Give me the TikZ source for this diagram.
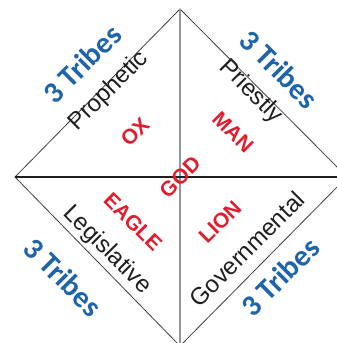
\documentclass[tikz,border=0pt]{standalone}
\usepackage{fontspec}
\setmainfont{Liberation Sans}
\newfontfamily\tribefont{Carlito}
\usetikzlibrary{positioning}
\definecolor{ink}{RGB}{30,30,30}
\definecolor{soft}{RGB}{150,150,150}
\definecolor{tribeblue}{RGB}{30,100,172}
\definecolor{beastred}{RGB}{226,28,44}
\tikzset{
  every picture/.style={x=1pt, y=-1pt, line width=0.8pt},
  edge/.style={draw=ink!85, line width=0.8pt},
  axis/.style={draw=ink, line width=1.1pt},
  spine/.style={draw=soft, line width=1.4pt},
  office/.style={font=\fontsize{24}{24}\selectfont, text=ink, inner sep=0pt},
  tribe/.style={font=\tribefont\bfseries\fontsize{30}{30}\selectfont, text=tribeblue, inner sep=0pt},
  beast/.style={font=\bfseries\fontsize{21}{21}\selectfont, text=beastred, inner sep=0pt},
}

\begin{document}
\begin{tikzpicture}
  \useasboundingbox (0,0) rectangle (337,343);
  % the four points of the square, turned on its corner
  \coordinate (top)    at (180,9);
  \coordinate (left)   at (15,177);
  \coordinate (right)  at (347,177);
  \coordinate (bottom) at (180,346);
  \coordinate (mid)    at (180,177);
  \begin{scope}
    \clip (0,0) rectangle (337,343);
    \draw[edge] (top) -- (right) -- (bottom) -- (left) -- cycle;
    \draw[spine] (top) -- (bottom);
    \draw[axis] (left) -- (right);
  \end{scope}
  % offices along the edges
  \node[office, rotate=45]  (prophetic)    at (109,91)  {Prophetic};
  \node[office, rotate=-45] (priestly)     at (251,92)  {Priestly};
  \node[office, rotate=-45] (legislative)  at (107,250) {Legislative};
  \node[office, rotate=45]  (governmental) at (247,249) {Governmental};
  % tribes outside
  \node[tribe, rotate=45]  (tribestl) at (82,64)   {3 Tribes};
  \node[tribe, rotate=-45] (tribestr) at (279,69)  {3 Tribes};
  \node[tribe, rotate=-45] (tribesbl) at (63,277)  {3 Tribes};
  \node[tribe, rotate=45]  (tribesbr) at (280,277) {3 Tribes};
  % the four faces and the middle
  \node[beast, rotate=45]  (ox)    at (135,132) {OX};
  \node[beast, rotate=-45] (man)   at (233,132) {MAN};
  \node[beast, rotate=45]  (god)   at (mid)     {GOD};
  \node[beast, rotate=-45] (eagle) at (133,222) {EAGLE};
  \node[beast, rotate=45]  (lion)  at (220,222) {LION};
\end{tikzpicture}
\end{document}
